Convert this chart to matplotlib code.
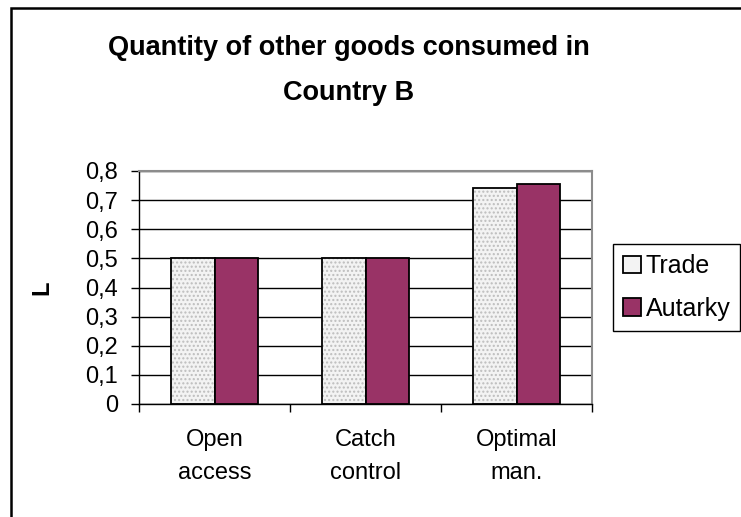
import matplotlib
matplotlib.use("Agg")
import matplotlib.pyplot as plt
import matplotlib.patches as mpatches
import numpy as np

plt.rcParams['font.family'] = ['Liberation Sans', 'DejaVu Sans']

categories = ['Open\naccess', 'Catch\ncontrol', 'Optimal\nman.']
trade = [0.5, 0.5, 0.742]
autarky = [0.5, 0.5, 0.754]
yticks = [0, 0.1, 0.2, 0.3, 0.4, 0.5, 0.6, 0.7, 0.8]
ytick_labels = ['0', '0,1', '0,2', '0,3', '0,4', '0,5', '0,6', '0,7', '0,8']
title_lines = ['Quantity of other goods consumed in', 'Country B']

TRADE_FACE = '#f3f3f3'
AUTARKY_FACE = '#993366'

W, H = 741, 517
fig = plt.figure(figsize=(W / 100, H / 100), dpi=100)
fig.patch.set_facecolor('white')

# outer chart frame (runs off the right and bottom of the picture)
fig.patches.append(mpatches.Rectangle((11 / W, -0.1), 1.2, (1 - 8 / H) + 0.1,
                                      transform=fig.transFigure, fill=False,
                                      edgecolor='black', linewidth=1.8))

ax = fig.add_axes([139 / W, 1 - 404 / H, (592 - 139) / W, (404 - 171) / H])

x = np.arange(len(categories)) + 0.5
width = 0.285

# trade bars: dotted light fill, then a black outline on top
ax.bar(x - width / 2, trade, width, color=TRADE_FACE, edgecolor='#bdbdbd',
       linewidth=0, hatch='....', zorder=2)
ax.bar(x - width / 2, trade, width, facecolor='none', edgecolor='black',
       linewidth=1.3, zorder=3)
ax.bar(x + width / 2, autarky, width, color=AUTARKY_FACE, edgecolor='black',
       linewidth=1.3, zorder=3)

ax.set_xlim(0, 3)
ax.set_ylim(0, 0.8)
ax.set_yticks(yticks)
ax.set_yticklabels(ytick_labels, fontsize=17)
ax.yaxis.grid(True, color='black', linewidth=1.0)
ax.set_axisbelow(True)

# category boundaries carry the tick marks, labels sit in between
ax.set_xticks([0, 1, 2, 3])
ax.set_xticklabels([])
ax.set_xticks(x, minor=True)
ax.set_xticklabels(categories, minor=True, fontsize=17, linespacing=1.65)
ax.tick_params(axis='x', which='minor', length=0, pad=18)
ax.tick_params(axis='x', which='major', direction='out', length=6, width=1)
ax.tick_params(axis='y', direction='out', length=6, width=1, pad=9)

for side in ('top', 'right'):
    ax.spines[side].set_color('#8c8c8c')
    ax.spines[side].set_linewidth(1.5)
for side in ('left', 'bottom'):
    ax.spines[side].set_color('black')
    ax.spines[side].set_linewidth(1.0)

ax.set_ylabel('L', fontsize=17, fontweight='bold')
ax.yaxis.set_label_coords(-0.19, 0.5)

fig.text(349 / W, 1 - 55 / H, title_lines[0], ha='center', va='baseline',
         fontsize=19.5, fontweight='bold')
fig.text(349 / W, 1 - 100 / H, title_lines[1], ha='center', va='baseline',
         fontsize=19.5, fontweight='bold')

handles = [mpatches.Patch(facecolor=TRADE_FACE, edgecolor='black', linewidth=1.3),
           mpatches.Patch(facecolor=AUTARKY_FACE, edgecolor='black', linewidth=1.3)]
leg = fig.legend(handles, ['Trade', 'Autarky'], loc='upper left',
                 bbox_to_anchor=(613 / W, 1 - 244 / H), borderaxespad=0,
                 fancybox=False, fontsize=18, handlelength=0.7,
                 handleheight=0.7, handletextpad=0.2, labelspacing=0.75,
                 borderpad=0.4, framealpha=1)
leg.get_frame().set_edgecolor('black')
leg.get_frame().set_linewidth(1.0)

fig.savefig('out.png', dpi=100)
